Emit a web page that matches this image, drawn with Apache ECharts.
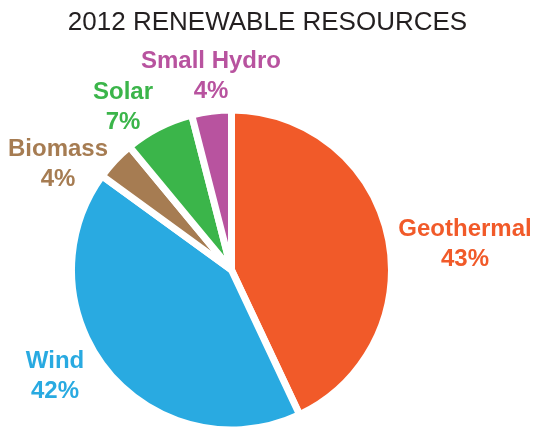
<!DOCTYPE html>
<html>
<head>
<meta charset="utf-8">
<script src="https://cdn.jsdelivr.net/npm/echarts@6/dist/echarts.min.js"></script>
<style>html,body{margin:0;padding:0;background:#fff}#c{width:535px;height:427px}</style>
</head>
<body>
<div id="c"></div>
<script>
const categories = ['Geothermal', 'Wind', 'Biomass', 'Solar', 'Small Hydro'];
const values = [43, 42, 4, 7, 4];
const colors = ['#F15A29', '#29AAE1', '#A67C52', '#3BB54A', '#B8539F'];
// label centre positions (layout only)
const labelPos = [[465, 244], [55, 376], [58, 164], [123, 107], [211, 76]];

const chart = echarts.init(document.getElementById('c'));
chart.setOption({
  animation: false,
  title: {
    text: '2012 RENEWABLE RESOURCES',
    left: 'center',
    top: 10,
    padding: 0,
    textStyle: { fontFamily: 'Liberation Sans, Arial, sans-serif', fontSize: 26, fontWeight: 'normal', color: '#231F20' }
  },
  series: [{
    type: 'pie',
    center: [231.5, 270],
    radius: [0, 160],
    startAngle: 90,
    clockwise: true,
    avoidLabelOverlap: false,
    emphasis: { disabled: true },
    itemStyle: { borderColor: '#ffffff', borderWidth: 7 },
    label: {
      show: true,
      position: 'outside',
      formatter: p => p.name + '\n' + p.value + '%',
      fontFamily: 'Liberation Sans, Arial, sans-serif',
      fontWeight: 'bold',
      fontSize: 24,
      lineHeight: 30,
      align: 'center'
    },
    labelLine: { show: false },
    labelLayout: params => ({
      x: labelPos[params.dataIndex][0],
      y: labelPos[params.dataIndex][1],
      align: 'center',
      verticalAlign: 'middle'
    }),
    data: categories.map((c, i) => ({
      name: c,
      value: values[i],
      itemStyle: { color: colors[i] },
      label: { color: colors[i] }
    }))
  }]
});
</script>
</body>
</html>
